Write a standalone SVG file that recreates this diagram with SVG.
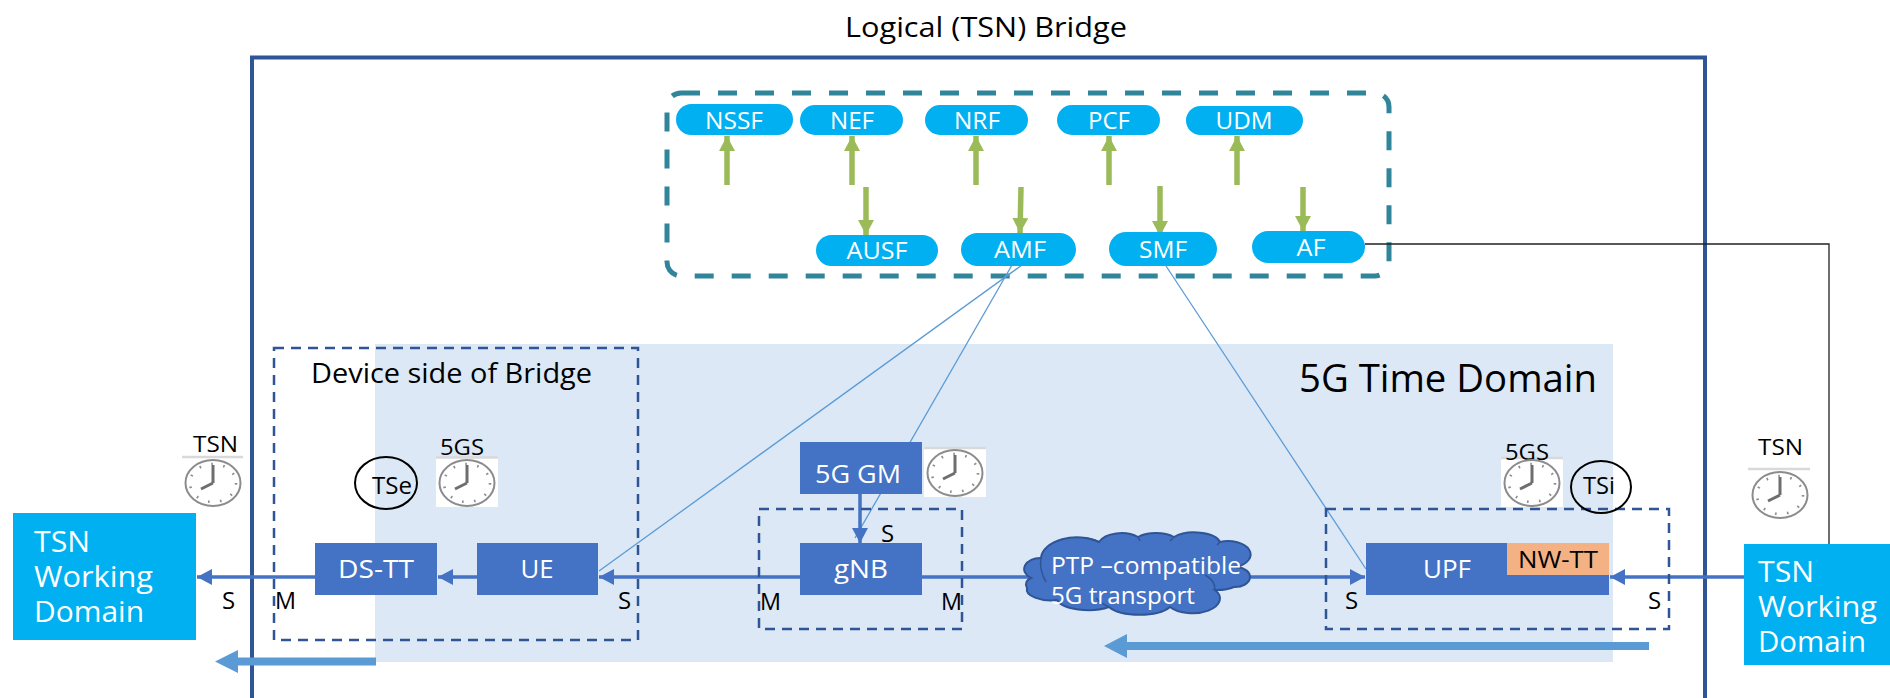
<svg xmlns="http://www.w3.org/2000/svg" xmlns:xlink="http://www.w3.org/1999/xlink" width="1890" height="698" viewBox="0 0 1890 698">
<style>
text{font-family:"Open Sans","Noto Sans","Liberation Sans",sans-serif;fill:#000}
.w{fill:#fff}
.nf{fill:#00b0f0}
.blk{fill:#4472c4}
.dash{fill:none;stroke:#2f5597;stroke-width:2.5;stroke-dasharray:10 7}
.thin{fill:none;stroke:#5b9bd5;stroke-width:1.3}
.conn{fill:none;stroke:#4472c4;stroke-width:3.5}
.green{fill:none;stroke:#9bbb59;stroke-width:5.5;marker-end:url(#gh)}
.big{fill:#5b9bd5}
.rim{fill:none;stroke:#8c8c8c;stroke-width:2}
.tk{fill:none;stroke:#8c8c8c;stroke-width:2.6;stroke-dasharray:1.6 10.5}
.hand{stroke:#6e6e6e;stroke-width:3;fill:none}
.hair{stroke:#d9d9d9;stroke-width:2.5}
</style>
<defs>
<marker id="gh" markerUnits="userSpaceOnUse" markerWidth="16" markerHeight="16" refX="15" refY="8" orient="auto"><path d="M0 0L15 8L0 16Z" fill="#9bbb59"/></marker>
<marker id="bh" markerUnits="userSpaceOnUse" markerWidth="16" markerHeight="16" refX="15" refY="8" orient="auto"><path d="M0 0L15 8L0 16Z" fill="#4472c4"/></marker>
<filter id="sh" x="-5%" y="-200%" width="110%" height="500%"><feDropShadow dx="0" dy="3" stdDeviation="2" flood-color="#7f7f7f"/></filter>
<g id="clk">
<ellipse class="rim" rx="27.5" ry="23" fill="#fff"/>
<ellipse class="tk" rx="23" ry="19"/>
<path class="hand" d="M0 0V-18M0 0L-12 6"/>
</g>
</defs>

<text x="845" y="37" font-size="28" textLength="282" lengthAdjust="spacingAndGlyphs">Logical (TSN) Bridge</text>
<rect x="375" y="344" width="1238" height="318" fill="#dce8f5"/>
<path d="M252 700V57.500H1705V700" fill="none" stroke="#2f5597" stroke-width="4"/>
<text x="1299" y="392" font-size="38" textLength="298" lengthAdjust="spacingAndGlyphs">5G Time Domain</text>

<g id="core">
<rect x="667" y="93" width="722" height="183" rx="14" fill="none" stroke="#31859b" stroke-width="5" stroke-dasharray="19 18"/>
<path d="M667 185H1372" stroke="#fff" stroke-width="5" filter="url(#sh)"/>
</g>

<g id="connectors">
<path class="green" d="M727 185V136"/>
<path class="green" d="M852 185V136"/>
<path class="green" d="M976 185V136"/>
<path class="green" d="M1109 185V136"/>
<path class="green" d="M1237 185V136"/>
<path class="green" d="M866 187V235"/>
<path class="green" d="M1021 187L1020 233"/>
<path class="green" d="M1160 186V236"/>
<path class="green" d="M1303 187V231"/>
<path d="M1365 244H1829V544" fill="none" stroke="#222" stroke-width="1.300"/>
<path class="thin" d="M1022 265L599 571"/>
<path class="thin" d="M1012 265L855 538"/>
<path class="thin" d="M1166 266L1366 569"/>
<path class="conn" d="M315 577H197" marker-end="url(#bh)"/>
<path class="conn" d="M477 577H438" marker-end="url(#bh)"/>
<path class="conn" d="M1040 577H599" marker-end="url(#bh)"/>
<path class="conn" d="M1235 577H1365" marker-end="url(#bh)"/>
<path class="conn" d="M1750 577H1610" marker-end="url(#bh)"/>
<path class="conn" d="M860 494V543" marker-end="url(#bh)"/>
<path class="big" d="M215 661.500L238 650V657.500H376V665.500H238V673Z"/>
<path class="big" d="M1104 646L1127 634V642H1649V650H1127V658Z"/>
</g>

<g id="nssf"><rect class="nf" x="676" y="104" width="117" height="31" rx="15.500"/><text class="w" x="734" y="129" font-size="24" text-anchor="middle" textLength="58" lengthAdjust="spacingAndGlyphs">NSSF</text></g>
<g id="nef"><rect class="nf" x="800" y="105" width="103" height="30" rx="15"/><text class="w" x="852" y="129" font-size="24" text-anchor="middle" textLength="44" lengthAdjust="spacingAndGlyphs">NEF</text></g>
<g id="nrf"><rect class="nf" x="925" y="105" width="103" height="30" rx="15"/><text class="w" x="977" y="129" font-size="24" text-anchor="middle" textLength="46" lengthAdjust="spacingAndGlyphs">NRF</text></g>
<g id="pcf"><rect class="nf" x="1057" y="105" width="103" height="30" rx="15"/><text class="w" x="1109" y="129" font-size="24" text-anchor="middle" textLength="42" lengthAdjust="spacingAndGlyphs">PCF</text></g>
<g id="udm"><rect class="nf" x="1186" y="106" width="117" height="29" rx="14.500"/><text class="w" x="1244" y="129" font-size="24" text-anchor="middle" textLength="57" lengthAdjust="spacingAndGlyphs">UDM</text></g>
<g id="ausf"><rect class="nf" x="816" y="235" width="122" height="31" rx="15.500"/><text class="w" x="877" y="259" font-size="24" text-anchor="middle" textLength="61" lengthAdjust="spacingAndGlyphs">AUSF</text></g>
<g id="amf"><rect class="nf" x="961" y="233" width="115" height="33" rx="16.500"/><text class="w" x="1020" y="258" font-size="24" text-anchor="middle" textLength="52" lengthAdjust="spacingAndGlyphs">AMF</text></g>
<g id="smf"><rect class="nf" x="1109" y="232" width="108" height="34" rx="17"/><text class="w" x="1163" y="258" font-size="24" text-anchor="middle" textLength="48" lengthAdjust="spacingAndGlyphs">SMF</text></g>
<g id="af"><rect class="nf" x="1252" y="231" width="113" height="32" rx="16"/><text class="w" x="1311" y="256" font-size="24" text-anchor="middle" textLength="29" lengthAdjust="spacingAndGlyphs">AF</text></g>

<g id="device-side">
<rect class="dash" x="274" y="348" width="364" height="292"/>
<text x="311" y="383" font-size="27" textLength="281" lengthAdjust="spacingAndGlyphs">Device side of Bridge</text>
</g>
<g id="gnb-side"><rect class="dash" x="759" y="509" width="203" height="120"/></g>
<g id="upf-side"><rect class="dash" x="1326" y="509" width="343" height="120"/></g>

<g id="tsn-left">
<rect class="nf" x="13" y="513" width="183" height="127"/>
<text class="w" x="34" y="552" font-size="30" textLength="56" lengthAdjust="spacingAndGlyphs">TSN</text>
<text class="w" x="34" y="587" font-size="30" textLength="119" lengthAdjust="spacingAndGlyphs">Working</text>
<text class="w" x="34" y="622" font-size="30" textLength="110" lengthAdjust="spacingAndGlyphs">Domain</text>
</g>
<g id="ds-tt"><rect class="blk" x="315" y="543" width="122" height="52"/><text class="w" x="376" y="578" font-size="26" text-anchor="middle" textLength="76" lengthAdjust="spacingAndGlyphs">DS-TT</text></g>
<g id="ue"><rect class="blk" x="477" y="543" width="121" height="52"/><text class="w" x="537" y="578" font-size="26" text-anchor="middle" textLength="33" lengthAdjust="spacingAndGlyphs">UE</text></g>
<g id="gm"><rect class="blk" x="800" y="442" width="122" height="52"/><text class="w" x="858" y="483" font-size="26" text-anchor="middle" textLength="86" lengthAdjust="spacingAndGlyphs">5G GM</text></g>
<g id="gnb"><rect class="blk" x="800" y="543" width="122" height="52"/><text class="w" x="861" y="578" font-size="26" text-anchor="middle" textLength="54" lengthAdjust="spacingAndGlyphs">gNB</text></g>
<g id="transport">
<path d="M1031 578A16 11 0 0 1 1041 558A36 22 0 0 1 1099 542A24 14 0 0 1 1138 537A24 12 0 0 1 1174 537A26 12 0 0 1 1220 542A22 13 0 0 1 1236 567A12 8 0 0 1 1234 587A22 8 0 0 1 1215 590A26 14 0 0 1 1170 607A34 14 0 0 1 1109 607A32 13 0 0 1 1057 600A24 11 0 0 1 1027 588A8 7 0 0 1 1031 578Z" fill="#4472c4" stroke="#2f5597" stroke-width="2"/>
<path d="M1041 558Q1039 570 1046 582M1099 542Q1090 538 1085 538M1138 537L1140 541M1174 537L1170 541M1220 542L1217 545M1215 590Q1215 580 1205 575M1109 607Q1100 603 1096 598" fill="none" stroke="#2f5597" stroke-width="1.500"/>
<text class="w" x="1051" y="574" font-size="24" textLength="190" lengthAdjust="spacingAndGlyphs">PTP –compatible</text>
<text class="w" x="1051" y="604" font-size="24" textLength="144" lengthAdjust="spacingAndGlyphs">5G transport</text>
</g>
<g id="upf">
<rect class="blk" x="1366" y="543" width="243" height="52"/>
<rect x="1507" y="543" width="102" height="32" fill="#f4b183"/>
<text class="w" x="1423" y="578" font-size="26" textLength="48" lengthAdjust="spacingAndGlyphs">UPF</text>
<text x="1518" y="568" font-size="24" textLength="80" lengthAdjust="spacingAndGlyphs">NW-TT</text>
</g>
<g id="tsn-right">
<rect class="nf" x="1744" y="544" width="146" height="121"/>
<text class="w" x="1758" y="582" font-size="30" textLength="56" lengthAdjust="spacingAndGlyphs">TSN</text>
<text class="w" x="1758" y="617" font-size="30" textLength="119" lengthAdjust="spacingAndGlyphs">Working</text>
<text class="w" x="1758" y="652" font-size="30" textLength="108" lengthAdjust="spacingAndGlyphs">Domain</text>
</g>

<g id="tse"><ellipse cx="386" cy="483" rx="31" ry="26" fill="none" stroke="#000" stroke-width="2"/><text x="372" y="494" font-size="24" textLength="40" lengthAdjust="spacingAndGlyphs">TSe</text></g>
<g id="tsi"><ellipse cx="1601" cy="487" rx="30" ry="26" fill="none" stroke="#000" stroke-width="2"/><text x="1583" y="494" font-size="24" textLength="32" lengthAdjust="spacingAndGlyphs">TSi</text></g>

<g id="clock-tsn-left"><text x="193" y="452" font-size="22" textLength="45" lengthAdjust="spacingAndGlyphs">TSN</text><path class="hair" d="M182 457H243"/><use xlink:href="#clk" href="#clk" x="213" y="483"/></g>
<g id="clock-5gs-left"><rect x="436" y="457" width="62" height="50" fill="#fff"/><path class="hair" d="M436 457.500H498"/><text x="440" y="455" font-size="22" textLength="44" lengthAdjust="spacingAndGlyphs">5GS</text><use xlink:href="#clk" href="#clk" x="467" y="483"/></g>
<g id="clock-gm"><rect x="924" y="447" width="62" height="50" fill="#fff"/><path class="hair" d="M924 448H986"/><use xlink:href="#clk" href="#clk" x="955" y="473"/></g>
<g id="clock-5gs-right"><rect x="1501" y="457" width="62" height="50" fill="#fff"/><path class="hair" d="M1501 458H1563"/><text x="1505" y="460" font-size="22" textLength="44" lengthAdjust="spacingAndGlyphs">5GS</text><use xlink:href="#clk" href="#clk" x="1532" y="483"/></g>
<g id="clock-tsn-right"><text x="1758" y="455" font-size="22" textLength="45" lengthAdjust="spacingAndGlyphs">TSN</text><path class="hair" d="M1748 469H1810"/><use xlink:href="#clk" href="#clk" x="1780" y="495"/></g>

<g id="port-labels" font-size="24">
<text x="222" y="609">S</text><text x="275" y="609" textLength="21" lengthAdjust="spacingAndGlyphs">M</text><text x="618" y="609">S</text>
<text x="881" y="542">S</text><text x="760" y="610" textLength="21" lengthAdjust="spacingAndGlyphs">M</text><text x="941" y="610" textLength="21" lengthAdjust="spacingAndGlyphs">M</text>
<text x="1345" y="609">S</text><text x="1648" y="609">S</text>
</g>
</svg>
